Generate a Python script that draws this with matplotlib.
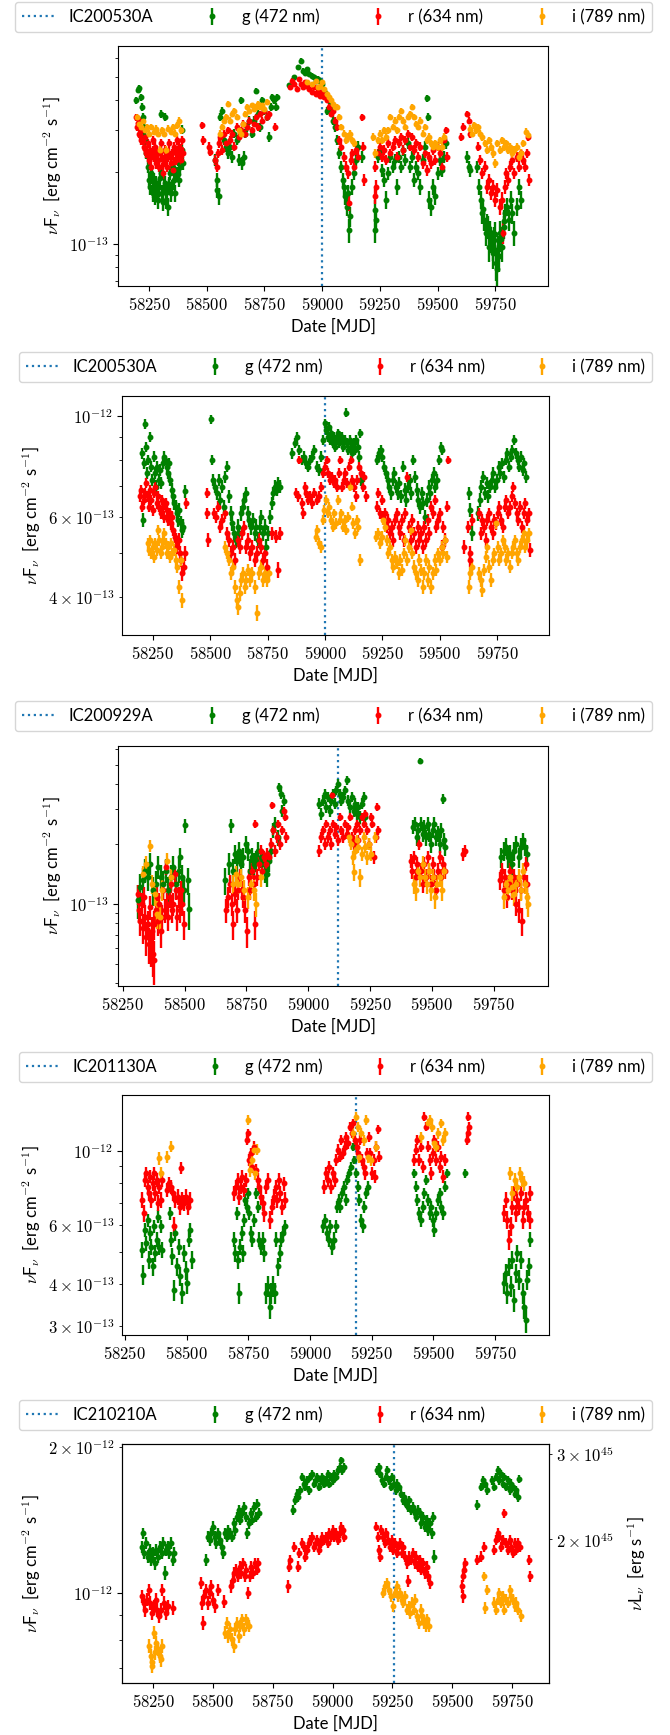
import matplotlib
matplotlib.use('Agg')
import matplotlib.pyplot as plt
from matplotlib.ticker import LogLocator, FuncFormatter, FixedLocator
import numpy as np

plt.rcParams['font.family'] = ['Lato', 'DejaVu Sans']
plt.rcParams['mathtext.fontset'] = 'cm'
plt.rcParams['font.size'] = 12

# ---------------- data (MJD, flux) ----------------
# Panel 1 : IC200530A, flux in 1e-13 erg cm^-2 s^-1
P1_EVENT = 59000
P1_G = [(58194,3.98),(58200,4.4),(58206,4.5),(58213,4.1),(58217,3.74),(58222,2.89),(58224,3.4),(58228,3.08),(58231,2.7),(58237,2.4),(58243,2.1),(58248,1.85),(58254,1.73),(58259,1.97),(58265,1.63),(58270,1.85),(58276,1.58),(58281,1.79),(58287,1.53),(58293,1.73),(58300,3.5),(58302,1.97),(58307,1.63),(58313,1.73),(58320,3.4),(58324,1.53),(58330,1.43),(58335,1.73),(58341,1.97),(58346,1.63),(58352,2.1),(58357,1.85),(58363,1.63),(58369,1.97),(58374,2.24),(58380,1.85),(58385,2.1),(58391,2.47),(58394,3.0),(58398,2.17),
        (58262,1.9),(58268,1.68),(58278,1.75),(58290,1.62),(58298,1.88),(58310,1.5),(58318,1.8),(58327,1.65),(58338,1.78),(58349,1.72),(58360,1.95),(58377,1.95),
        (58537,2.24),(58543,1.85),(58546,1.68),(58552,1.58),(58557,3.4),(58565,3.6),(58574,2.71),(58583,2.55),(58593,2.39),(58602,2.55),(58611,2.31),(58620,2.89),(58630,2.71),(58639,2.24),(58648,3.98),(58654,2.17),(58661,2.31),(58667,2.89),(58676,3.08),(58685,3.28),(58694,2.89),(58704,3.28),(58713,4.38),(58722,3.5),(58731,3.08),(58741,3.98),(58750,3.6),(58759,3.4),(58769,2.8),(58778,3.74),(58783,4.1),(58791,3.98),(58798,3.74),(58806,4.1),
        (58857,4.6),(58880,4.98),(58894,5.49),(58907,5.84),(58917,5.3),(58926,5.2),(58935,5.39),(58944,5.14),(58954,5.06),(58963,4.98),(58972,4.82),(58981,4.9),(58991,4.82),(59000,4.66),
        (59009,4.38),(59019,3.6),(59028,3.98),(59037,3.74),(59046,3.28),(59056,3.08),(59065,2.71),(59074,2.39),(59083,2.1),(59089,1.85),(59094,1.73),(59100,1.58),(59106,1.43),(59111,1.63),(59117,1.14),(59122,1.3),(59130,1.73),(59139,1.97),(59148,2.24),(59157,2.55),(59172,2.31),
        (59228,1.39),(59231,1.14),(59235,1.26),(59241,2.31),(59250,2.47),(59259,2.03),(59269,1.85),(59278,1.53),(59287,1.97),(59296,2.31),(59306,2.1),(59315,2.24),(59324,1.73),(59333,2.31),(59343,2.1),(59352,2.47),(59361,2.24),(59370,2.63),(59380,2.1),(59389,2.31),(59398,1.85),(59407,2.1),(59417,1.97),(59426,1.73),(59435,2.24),(59444,2.55),(59454,4.07),(59459,3.4),(59463,1.53),(59472,1.43),(59481,1.73),(59491,1.58),(59500,1.97),(59509,2.24),(59519,2.03),(59528,2.31),(59537,2.63),
        (59630,2.31),(59635,2.1),(59639,2.03),(59672,2.1),(59680,1.73),(59687,1.53),(59694,1.34),(59702,1.26),(59709,1.11),(59717,1.18),(59724,0.97),(59731,1.04),(59739,0.91),(59746,1.04),(59754,0.83),(59759,0.78),(59765,0.89),(59772,1.11),(59780,0.97),(59787,1.18),(59794,1.34),(59802,1.43),(59809,1.26),(59817,1.53),(59824,1.34),(59833,1.11),(59843,1.43),(59852,1.73),(59861,1.53),
        (59698,1.4),(59713,1.2),(59728,1.12),(59742,0.98),(59750,1.1),(59762,0.95),(59776,1.05),(59790,1.25)]
P1_R = [(58194,3.39),(58198,3.08),(58204,2.89),(58209,3.28),(58215,2.71),(58220,2.98),(58226,2.55),(58231,2.8),(58237,2.39),(58243,2.63),(58248,2.24),(58254,2.47),(58259,2.1),(58265,2.71),(58270,2.31),(58276,2.55),(58281,2.17),(58287,2.39),(58293,2.1),(58300,2.63),(58304,2.31),(58309,1.97),(58315,2.24),(58320,2.47),(58326,2.1),(58331,2.31),(58337,2.63),(58343,2.17),(58348,2.39),(58354,2.03),(58359,2.55),(58365,2.24),(58370,2.71),(58376,2.31),(58381,2.55),(58387,2.24),(58393,2.71),(58398,2.39),
        (58201,3.2),(58212,2.85),(58223,2.7),(58234,2.5),(58246,2.35),(58257,2.3),(58268,2.45),(58279,2.35),(58290,2.25),(58302,2.45),(58312,2.15),(58323,2.3),(58334,2.4),(58345,2.3),(58357,2.2),(58368,2.45),(58379,2.4),(58390,2.5),
        (58481,3.13),(58485,2.71),(58509,2.55),(58515,2.43),(58537,2.24),(58543,2.1),(58548,2.39),(58554,2.63),(58559,2.8),(58565,2.47),(58574,2.89),(58583,2.63),(58593,2.98),(58602,2.71),(58611,2.89),(58620,2.55),(58630,3.08),(58639,2.8),(58648,2.98),(58657,3.18),(58667,2.89),(58676,3.08),(58685,3.28),(58694,2.98),(58704,3.18),(58713,3.39),(58722,3.08),(58731,3.5),(58741,3.28),(58750,3.6),(58759,3.39),(58769,3.5),(58796,3.08),
        (58861,4.52),(58870,4.82),(58880,4.66),(58889,4.45),(58898,4.9),(58907,4.66),(58917,4.52),(58926,4.74),(58935,4.59),(58944,4.45),(58954,4.31),(58963,4.52),(58972,4.24),(58981,4.38),(58991,4.17),(59000,4.31),
        (59009,4.1),(59019,3.98),(59028,3.74),(59037,3.5),(59046,3.6),(59056,3.28),(59065,3.08),(59074,2.71),(59083,2.55),(59093,2.31),(59102,2.1),(59111,1.97),(59117,1.48),(59124,2.24),(59131,2.39),(59139,2.1),(59148,2.47),(59157,2.31),(59172,3.39),(59176,2.55),(59180,1.85),
        (59228,2.1),(59231,1.58),(59235,1.73),(59243,2.39),(59250,2.55),(59259,2.31),(59269,2.47),(59278,2.24),(59287,2.63),(59296,2.39),(59306,2.55),(59315,2.71),(59324,2.31),(59333,2.63),(59343,2.8),(59352,2.47),(59361,2.71),(59370,2.89),(59380,2.55),(59389,2.8),(59398,2.47),(59407,2.63),(59417,2.31),(59426,2.55),(59435,2.17),(59444,2.39),(59454,2.03),(59463,2.31),(59472,2.17),(59481,2.47),(59491,2.24),(59500,2.55),(59509,2.39),(59519,2.1),(59528,2.71),(59537,2.98),(59543,2.31),
        (59602,2.8),(59611,3.08),(59630,3.5),(59635,3.28),(59639,2.89),(59676,2.55),(59685,2.24),(59694,1.97),(59704,2.1),(59713,1.73),(59722,1.85),(59731,1.63),(59741,1.73),(59750,1.53),(59759,1.68),(59769,1.43),(59778,1.53),(59783,1.11),(59791,1.73),(59798,1.97),(59806,1.85),(59815,2.1),(59824,2.24),(59833,1.97),(59843,2.31),(59852,2.1),(59861,2.39),(59870,2.24),(59880,2.1),(59889,2.39),(59894,2.8),(59898,1.85)]
P1_I = [(58198,3.39),(58206,3.18),(58213,3.08),(58222,3.28),(58231,2.98),(58241,3.08),(58250,2.89),(58259,3.08),(58269,2.94),(58278,3.03),(58287,2.89),(58296,2.47),(58306,2.98),(58315,2.89),(58324,2.47),(58333,3.03),(58343,2.94),(58352,3.08),(58361,2.89),(58370,3.13),(58380,3.28),(58389,2.98),
        (58556,2.89),(58565,3.08),(58574,3.28),(58583,3.39),(58593,3.85),(58602,3.28),(58611,3.5),(58620,3.6),(58630,3.39),(58639,2.98),(58648,2.89),(58657,3.18),(58667,3.5),(58676,3.74),(58685,3.6),(58694,3.8),(58704,3.67),(58713,3.74),(58722,3.85),(58731,3.74),(58741,3.8),(58750,3.67),(58759,3.92),
        (58935,4.74),(58954,4.66),(58972,4.82),(58981,4.52),(58991,4.59),(59000,4.74),(59009,4.45),
        (59019,4.24),(59028,4.1),(59037,3.98),(59046,3.85),(59056,3.74),(59065,3.74),(59074,3.39),(59083,3.08),(59093,2.89),(59102,2.71),(59111,2.8),(59120,2.89),(59130,2.71),(59139,2.63),
        (59222,2.8),(59231,2.39),(59241,2.71),(59250,2.89),(59259,2.71),(59269,2.98),(59278,2.8),(59287,2.98),(59296,3.39),(59306,3.08),(59315,3.28),(59324,2.98),(59333,3.39),(59343,3.6),(59352,3.28),(59361,3.08),(59370,3.39),(59380,3.5),(59389,3.74),(59398,3.39),(59407,3.18),(59417,3.08),(59426,3.28),(59435,2.89),(59444,3.08),(59454,2.71),(59463,2.8),(59472,2.63),(59481,2.55),(59491,2.63),(59500,2.55),(59509,2.71),(59519,2.55),(59528,2.8),
        (59639,3.03),(59648,2.89),(59657,3.13),(59667,2.98),(59676,3.08),(59685,2.89),(59694,2.8),(59704,2.63),(59713,2.47),(59722,2.71),(59731,2.55),(59741,2.39),(59750,2.17),(59759,2.63),(59769,2.47),(59778,2.71),(59787,2.55),(59796,2.63),(59806,2.47),(59815,2.55),(59824,2.39),(59833,2.47),(59843,2.55),(59852,2.31),(59861,2.39),(59870,2.63),(59885,2.94),(59892,2.85)]
P1_ERR = (0.13, 0.11, 0.10)

# Panel 2 : IC200530A (second source), flux in 1e-13
P2_EVENT = 59000
P2_G = [(58205,8.27),(58209,5.9),(58211,7.86),(58215,9.6),(58220,8.56),(58226,7.48),(58231,8.0),(58237,9.0),(58243,7.73),(58248,7.23),(58254,8.13),(58259,7.48),(58265,6.99),(58270,7.73),(58276,7.23),(58282,7.6),(58287,7.11),(58293,7.86),(58298,8.13),(58304,8.0),(58310,7.73),(58315,7.48),(58321,7.86),(58326,7.23),(58332,6.88),(58337,6.65),(58343,6.42),(58349,6.31),(58354,6.1),(58360,5.9),(58365,6.2),(58371,5.8),(58377,5.61),(58382,5.7),(58390,6.82),
        (58503,9.83),(58507,8.0),(58512,7.23),(58522,6.99),(58529,6.76),(58537,7.23),(58544,6.53),(58552,6.99),(58559,6.31),(58566,7.35),(58574,7.73),(58581,6.65),(58589,6.1),(58596,5.8),(58604,5.51),(58611,5.33),(58619,5.7),(58626,5.51),(58633,6.1),(58641,6.31),(58648,6.53),(58656,6.76),(58663,6.1),(58671,5.9),(58678,5.7),(58686,5.9),(58693,5.51),(58700,5.7),(58708,5.33),(58715,5.7),(58723,6.0),(58730,5.51),(58738,5.7),(58745,5.15),(58753,5.51),(58760,6.0),(58767,6.42),(58775,6.76),(58782,6.99),(58790,6.88),(58797,7.11),(58805,6.99),
        (58857,8.27),(58870,8.71),(58879,9.0),(58888,8.41),(58898,8.0),(58907,8.13),(58916,7.86),(58926,7.73),(58935,8.0),(58944,8.13),(58954,8.41),(58963,7.73),(58972,7.6),(58981,8.13),(58991,8.85),(59000,9.63),(59006,9.31),(59011,9.0),(59017,9.47),(59022,8.85),(59028,9.16),(59034,8.71),(59039,9.0),(59045,8.56),(59050,8.85),(59056,9.16),(59061,8.71),(59067,8.85),(59073,9.0),(59078,8.56),(59086,8.85),(59091,10.17),(59097,8.71),(59102,8.41),(59108,8.85),(59114,8.56),(59119,8.27),(59125,8.71),(59130,8.41),(59136,8.85),(59142,8.56),(59147,8.13),(59153,9.16),(59158,7.23),
        (59227,8.0),(59235,8.27),(59242,8.41),(59249,8.13),(59257,7.73),(59264,7.48),(59272,7.23),(59279,6.99),(59287,6.76),(59294,7.23),(59302,7.48),(59309,6.99),(59317,6.76),(59324,7.11),(59331,6.65),(59339,7.73),(59346,6.88),(59354,6.53),(59361,6.99),(59369,7.23),(59376,6.76),(59384,8.0),(59391,7.35),(59399,6.88),(59406,6.53),(59413,6.31),(59421,6.76),(59428,6.42),(59436,6.0),(59443,6.53),(59451,6.99),(59458,6.76),(59465,7.23),(59473,7.48),(59480,6.99),(59488,7.23),(59495,8.0),(59503,8.56),(59510,8.41),
        (59627,6.76),(59633,6.2),(59638,5.51),(59666,6.1),(59674,6.53),(59681,6.99),(59689,7.35),(59696,6.76),(59704,7.11),(59711,6.65),(59718,6.99),(59726,7.23),(59733,7.48),(59741,6.99),(59748,7.23),(59756,7.73),(59763,7.48),(59771,7.86),(59778,7.35),(59786,8.0),(59793,8.27),(59800,7.73),(59808,8.13),(59815,8.41),(59823,8.85),(59830,8.27),(59838,8.0),(59845,7.73),(59853,8.13),(59860,7.6),(59867,7.86),(59875,7.35)]
P2_R = [(58194,6.65),(58200,6.88),(58205,6.31),(58211,6.53),(58216,6.76),(58222,7.11),(58228,6.65),(58233,6.31),(58239,6.88),(58244,6.53),(58250,6.2),(58256,6.76),(58261,6.99),(58267,6.42),(58272,6.65),(58278,6.31),(58284,6.1),(58289,6.53),(58295,6.31),(58300,6.0),(58306,6.42),(58311,6.2),(58317,5.9),(58323,6.1),(58328,5.8),(58334,6.0),(58339,5.61),(58345,5.42),(58351,5.33),(58356,5.15),(58362,5.33),(58367,4.98),(58373,4.82),(58378,4.5),(58384,4.66),(58390,4.98),(58393,6.42),
        (58484,6.76),(58486,6.1),(58490,5.33),(58516,6.1),(58525,6.0),(58535,6.31),(58544,5.7),(58553,5.9),(58563,6.1),(58572,5.51),(58581,5.33),(58591,4.98),(58600,5.15),(58609,4.82),(58619,5.33),(58628,5.15),(58637,5.51),(58646,5.7),(58656,5.15),(58665,5.33),(58674,4.98),(58684,5.15),(58693,4.82),(58702,4.98),(58712,5.33),(58721,5.15),(58730,4.82),(58739,4.98),(58749,4.66),(58767,5.51),(58786,5.42),(58795,4.58),(58805,5.51),
        (58874,6.76),(58883,6.65),(58888,8.0),(58898,6.42),(58903,6.1),(58911,6.99),(58918,6.76),(58926,6.53),(58935,6.65),(58944,6.42),(58954,6.76),(58963,6.53),(58972,6.65),(58981,6.99),(58991,7.48),(59000,7.73),(59007,8.0),(59015,7.48),(59022,7.23),(59030,7.35),(59037,7.11),(59045,7.23),(59052,6.99),(59060,7.48),(59067,8.0),(59074,6.99),(59082,7.23),(59089,7.48),(59097,7.11),(59104,7.73),(59112,8.0),(59119,7.23),(59127,6.99),(59134,6.65),(59141,7.23),(59149,7.73),(59156,7.48),(59164,6.99),(59171,7.35),(59177,6.65),
        (59227,6.31),(59232,6.76),(59238,6.1),(59246,6.53),(59253,6.0),(59261,6.1),(59268,5.7),(59276,5.9),(59283,5.51),(59291,5.7),(59298,5.33),(59306,5.9),(59313,6.1),(59320,5.7),(59328,5.51),(59335,5.9),(59343,5.33),(59350,6.1),(59358,7.35),(59365,5.7),(59373,5.33),(59380,5.9),(59388,5.51),(59395,5.15),(59403,5.7),(59410,5.33),(59418,5.51),(59425,5.15),(59432,5.7),(59440,5.33),(59447,5.9),(59454,5.51),(59462,6.31),(59469,6.1),(59477,6.53),(59484,5.7),(59492,5.9),(59499,6.1),(59507,5.15),(59514,5.7),(59522,5.33),(59529,6.31),(59535,8.0),
        (59605,5.15),(59624,5.7),(59629,4.98),(59633,4.82),(59640,5.9),(59670,6.1),(59677,5.51),(59685,5.9),(59692,5.7),(59700,5.33),(59707,5.9),(59715,6.1),(59722,5.7),(59730,5.51),(59737,5.9),(59745,5.8),(59752,6.1),(59759,6.31),(59767,5.9),(59774,5.7),(59782,6.31),(59789,6.53),(59797,6.1),(59804,6.31),(59812,6.65),(59819,6.99),(59827,6.42),(59834,6.1),(59841,5.9),(59849,6.31),(59856,5.7),(59864,6.1),(59871,6.42),(59879,5.9),(59886,6.1),(59892,5.06)]
P2_I = [(58228,5.24),(58233,5.06),(58239,5.33),(58244,4.98),(58250,5.15),(58256,4.9),(58261,5.24),(58267,5.06),(58272,5.61),(58278,5.33),(58284,4.98),(58289,5.15),(58295,5.33),(58300,5.51),(58306,5.24),(58311,4.98),(58317,5.15),(58323,4.9),(58328,5.24),(58334,4.98),(58341,5.06),(58349,4.82),(58356,4.66),(58364,4.21),(58371,4.82),(58378,3.93),
        (58563,5.15),(58572,4.98),(58581,4.82),(58591,4.5),(58600,4.66),(58609,4.21),(58615,3.93),(58620,3.8),(58628,4.07),(58635,4.35),(58643,4.5),(58650,4.21),(58658,4.35),(58665,4.58),(58674,4.35),(58684,4.5),(58693,4.21),(58702,3.68),(58712,4.5),(58721,4.66),(58730,4.35),(58739,4.5),(58749,4.35),(58758,4.5),
        (58959,5.42),(58967,5.61),(58974,5.24),(58981,5.15),(58989,5.9),(58996,6.2),(59004,6.53),(59011,6.1),(59019,6.31),(59026,5.9),(59034,5.7),(59041,6.1),(59048,5.8),(59056,6.53),(59063,5.9),(59071,6.1),(59078,5.7),(59086,5.9),(59093,5.61),(59101,6.0),(59108,6.99),(59117,6.31),(59123,5.8),(59130,5.51),(59138,5.9),(59145,5.7),(59154,4.82),
        (59223,5.42),(59230,5.51),(59238,5.24),(59246,5.42),(59253,5.9),(59261,5.7),(59268,5.33),(59276,4.98),(59283,5.15),(59291,4.82),(59298,4.66),(59306,4.9),(59313,4.74),(59320,4.5),(59328,4.82),(59335,4.58),(59343,4.98),(59350,5.33),(59358,4.82),(59365,5.15),(59373,5.61),(59380,4.98),(59388,4.66),(59395,4.5),(59403,4.35),(59410,4.82),(59418,4.58),(59425,4.21),(59432,4.5),(59440,4.82),(59447,4.35),(59454,4.66),(59462,4.21),(59469,4.5),(59477,4.82),(59484,4.58),(59492,4.98),(59499,4.82),(59507,5.15),(59514,4.98),(59522,5.33),(59529,4.9),
        (59627,4.21),(59633,4.5),(59640,4.66),(59670,4.5),(59677,4.35),(59685,4.14),(59692,4.58),(59700,4.9),(59707,5.15),(59715,4.66),(59722,4.35),(59730,4.82),(59737,4.98),(59745,5.8),(59752,5.15),(59759,4.82),(59767,4.98),(59774,5.33),(59782,5.15),(59789,4.82),(59797,4.98),(59804,4.66),(59812,4.98),(59819,5.15),(59827,5.33),(59834,4.98),(59841,4.82),(59849,5.15),(59856,5.33),(59864,5.51),(59871,5.15),(59879,5.33),(59886,5.51)]
P2_ERR = (0.22, 0.18, 0.15)

# Panel 3 : IC200929A, flux in 1e-13
P3_EVENT = 59122
P3_G = [(58310,1.04),(58321,1.21),(58331,1.31),(58341,1.47),(58352,1.36),(58362,1.59),(58372,1.17),(58383,1.26),(58393,1.53),(58403,1.36),(58414,1.26),(58424,1.47),(58434,1.17),(58445,1.36),(58455,1.53),(58465,1.26),(58476,1.47),(58483,1.71),(58490,1.36),(58497,1.17),(58502,2.48),(58514,1.31),(58517,0.94),
        (58665,1.31),(58678,1.59),(58686,2.48),(58695,1.47),(58703,1.78),(58712,1.65),(58721,1.85),(58729,1.59),(58738,1.71),(58747,2.0),(58755,1.85),(58764,1.47),(58772,1.71),(58781,1.59),(58790,1.65),(58798,1.85),(58807,1.71),(58815,1.59),(58824,1.47),(58833,1.42),(58841,1.65),(58850,1.85),(58859,2.34),(58867,2.52),(58876,2.16),(58881,3.85),(58888,3.57),(58895,2.94),(58902,3.3),
        (59045,3.18),(59052,2.84),(59059,3.3),(59066,3.57),(59072,3.06),(59079,3.44),(59086,2.94),(59093,3.3),(59100,3.57),(59107,3.18),(59114,3.71),(59121,4.01),(59128,3.57),(59134,3.3),(59141,3.44),(59148,3.71),(59155,4.17),(59162,3.3),(59169,3.06),(59176,3.44),(59183,2.94),(59190,3.18),(59197,2.84),(59203,3.06),(59210,2.73),(59217,3.18),(59224,3.44),(59231,2.73),
        (59424,2.43),(59431,2.52),(59438,2.16),(59445,2.34),(59452,5.21),(59455,2.52),(59462,2.25),(59469,2.43),(59476,2.16),(59483,2.52),(59490,2.25),(59497,2.0),(59503,2.34),(59510,2.52),(59517,2.16),(59524,2.25),(59531,2.0),(59538,2.34),(59543,3.37),(59548,2.08),(59553,1.93),
        (59781,1.71),(59790,1.85),(59798,1.93),(59807,1.71),(59815,1.78),(59824,1.59),(59833,1.85),(59841,2.0),(59850,1.71),(59859,1.93),(59867,2.08),(59876,1.93),(59884,1.78)]
P3_R = [(58310,1.12),(58315,0.93),(58321,0.82),(58326,1.0),(58331,0.76),(58336,1.08),(58341,0.86),(58346,0.68),(58352,0.79),(58357,0.63),(58362,0.96),(58364,0.61),(58367,0.73),(58372,0.56),(58376,0.52),(58378,0.79),(58383,0.93),(58388,1.08),(58393,0.82),(58398,1.0),(58403,0.73),(58409,0.86),(58414,1.17),(58419,0.93),(58424,1.53),(58429,1.0),(58434,0.86),(58440,1.08),(58445,1.26),(58450,0.93),(58455,1.0),(58460,1.41),(58465,1.17),(58471,0.86),(58476,1.08),(58481,0.93),(58486,1.17),(58491,1.0),(58497,0.79),
        (58669,0.93),(58676,1.08),(58683,1.26),(58690,1.0),(58697,0.79),(58703,1.12),(58710,0.93),(58717,1.17),(58724,1.36),(58731,1.17),(58738,1.08),(58745,0.93),(58752,0.73),(58759,1.36),(58766,1.17),(58772,1.47),(58779,1.26),(58783,2.52),(58786,0.79),(58793,1.36),(58800,1.59),(58807,1.85),(58814,1.47),(58821,1.71),(58828,1.59),(58834,1.78),(58841,1.71),(58848,2.0),(58853,3.12),(58859,2.34),(58866,1.85),(58872,2.16),(58879,2.52),(58886,2.0),(58893,2.34),(58900,2.94),(58907,2.73),(58910,2.16),
        (59045,1.85),(59052,2.16),(59059,2.34),(59066,2.0),(59072,2.52),(59079,2.16),(59086,2.34),(59093,2.0),(59097,3.5),(59100,2.52),(59107,2.25),(59114,2.43),(59121,2.08),(59128,2.73),(59134,2.34),(59141,2.16),(59148,2.52),(59155,2.25),(59162,2.43),(59169,2.73),(59176,2.16),(59183,2.0),(59190,2.34),(59197,2.52),(59203,2.08),(59210,2.34),(59217,2.73),(59224,2.52),(59231,2.84),(59238,2.34),(59245,2.0),(59252,2.73),(59259,2.52),(59266,1.71),(59272,2.16),(59277,3.06),(59282,2.34),
        (59414,1.65),(59421,1.47),(59428,1.71),(59434,1.36),(59441,1.59),(59448,2.0),(59455,1.47),(59462,1.26),(59469,1.59),(59476,1.36),(59483,1.71),(59490,1.47),(59497,1.26),(59503,1.59),(59510,1.36),(59517,1.17),(59524,1.47),(59531,1.71),(59538,1.36),(59545,1.59),(59552,1.47),(59626,1.78),(59634,1.85),
        (59776,1.31),(59783,1.47),(59790,1.17),(59797,1.36),(59803,1.08),(59810,1.26),(59817,1.47),(59824,1.17),(59831,1.36),(59838,1.0),(59845,1.26),(59852,0.93),(59859,1.17),(59865,0.82),(59872,1.36),(59879,1.59),(59886,1.26)]
P3_I = [(58334,1.41),(58346,1.59),(58359,1.96),(58369,1.26),(58379,1.12),(58390,0.89),(58400,0.86),(58410,1.17),(58431,1.65),(58445,1.36),
        (58695,1.26),(58707,1.41),(58717,1.26),(58729,1.36),(58741,1.17),(58755,1.08),(58769,1.26),(58781,1.17),(58790,1.0),(58807,1.36),
        (59165,2.16),(59172,2.0),(59179,1.71),(59183,1.44),(59190,1.85),(59197,2.08),(59203,1.93),(59210,1.36),(59217,1.78),(59224,2.16),(59231,1.93),(59238,1.71),(59245,2.0),(59255,1.78),(59269,2.16),
        (59428,1.26),(59436,1.17),(59445,1.47),(59453,1.36),(59462,1.59),(59471,1.36),(59479,1.26),(59488,1.47),(59497,1.17),(59505,1.36),(59514,1.08),(59522,1.26),(59531,1.36),(59540,1.17),(59548,1.47),
        (59790,1.08),(59798,1.26),(59807,1.17),(59815,1.36),(59824,1.21),(59833,1.12),(59841,1.26),(59850,1.36),(59859,1.17),(59867,1.47),(59876,1.26),(59884,1.08),(59890,1.0)]
P3_ERR = (0.2, 0.13, 0.14)

# Panel 4 : IC201130A, flux in 1e-13
P4_EVENT = 59185
P4_G = [(58318,5.06),(58324,4.27),(58330,5.81),(58337,5.3),(58342,6.22),(58347,4.73),(58352,5.68),(58357,5.18),(58363,4.52),(58368,5.95),(58373,4.95),(58378,5.43),(58383,6.37),(58389,5.18),(58394,5.95),(58399,5.06),(58434,6.52),(58437,5.43),(58442,4.84),(58447,3.85),(58454,5.68),(58461,4.52),(58468,5.18),(58475,4.22),(58482,3.76),(58489,4.95),(58496,4.41),(58503,4.03),(58510,5.43),(58515,5.81),(58520,4.73),
        (58692,5.43),(58697,4.95),(58702,6.52),(58707,4.73),(58713,3.76),(58718,5.18),(58723,5.68),(58728,4.95),(58733,6.22),(58738,7.14),(58744,6.82),(58749,7.47),(58754,6.52),(58759,5.68),(58766,5.43),(58773,6.22),(58780,7.47),(58787,6.82),(58794,5.43),(58801,5.18),(58808,5.43),(58815,4.95),(58822,3.76),(58829,3.94),(58836,3.43),(58843,3.76),(58850,3.94),(58856,3.76),(58863,5.43),(58870,4.52),(58877,4.95),(58884,5.43),(58891,5.68),(58898,5.95),
        (59054,5.95),(59061,6.22),(59068,5.68),(59075,5.43),(59082,5.95),(59089,5.18),(59096,5.43),(59103,5.95),(59109,6.82),(59116,7.14),(59123,6.82),(59130,7.47),(59137,7.83),(59144,7.14),(59151,8.19),(59158,8.58),(59165,8.98),(59172,10.3),(59179,9.4),(59186,8.58),(59193,7.83),(59199,7.14),(59206,6.22),(59213,5.95),(59220,6.82),(59227,7.47),(59234,7.83),
        (59421,8.58),(59428,7.83),(59435,7.14),(59442,6.52),(59449,6.22),(59456,6.82),(59463,7.47),(59470,8.19),(59477,7.14),(59484,6.52),(59490,6.82),(59497,6.22),(59504,5.81),(59511,6.52),(59518,7.14),(59525,7.47),(59532,6.82),(59539,6.52),(59546,7.83),(59553,8.58),(59627,8.58),
        (59785,4.03),(59792,4.31),(59799,3.76),(59806,4.52),(59813,3.94),(59820,4.73),(59827,3.59),(59833,4.31),(59840,4.95),(59847,4.12),(59854,4.73),(59861,3.76),(59868,3.43),(59873,3.13),(59878,4.12),(59885,4.52),(59890,5.43)]
P4_R = [(58321,7.14),(58326,6.52),(58331,8.19),(58337,8.58),(58342,7.83),(58347,7.47),(58352,8.39),(58357,7.14),(58363,8.0),(58368,8.58),(58373,7.47),(58378,8.19),(58383,6.99),(58389,7.83),(58394,7.14),(58399,8.19),(58420,7.65),(58428,8.0),(58437,7.83),(58446,7.47),(58449,5.95),(58454,7.14),(58463,7.3),(58472,6.82),(58477,8.89),(58480,7.14),(58489,6.99),(58498,7.3),(58506,6.82),(58515,7.14),
        (58692,7.47),(58699,7.83),(58706,8.19),(58713,7.3),(58720,7.83),(58726,8.39),(58733,7.65),(58740,8.19),(58745,10.78),(58749,11.29),(58754,9.4),(58759,9.84),(58766,8.98),(58773,10.3),(58780,8.78),(58787,8.19),(58794,7.83),(58801,7.3),(58808,6.99),(58815,6.52),(58822,7.83),(58829,8.19),(58836,6.22),(58846,6.82),(58853,7.3),(58860,7.83),(58867,7.14),(58874,8.19),(58880,7.47),(58887,6.82),(58894,8.0),(58900,7.14),
        (59057,7.83),(59064,8.58),(59071,8.19),(59078,8.98),(59085,7.83),(59092,8.58),(59099,8.19),(59106,9.4),(59113,10.1),(59120,9.62),(59127,10.78),(59134,9.84),(59141,10.3),(59147,11.04),(59154,10.54),(59161,11.82),(59168,11.29),(59175,12.1),(59182,10.78),(59189,10.3),(59196,9.84),(59203,10.78),(59210,9.4),(59217,8.98),(59224,8.58),(59231,9.84),(59237,11.04),(59244,9.84),(59251,8.58),(59258,9.4),(59265,8.39),(59268,10.3),(59274,11.6),(59279,9.62),
        (59421,9.4),(59428,10.1),(59435,10.78),(59442,9.4),(59449,10.3),(59456,8.98),(59463,12.66),(59470,11.82),(59477,10.3),(59484,9.4),(59490,8.58),(59497,9.84),(59504,10.78),(59511,9.4),(59518,10.3),(59525,8.98),(59532,9.62),(59539,8.39),(59546,9.4),(59637,10.78),(59639,11.29),(59641,12.66),(59644,11.82),
        (59785,6.52),(59792,7.14),(59799,6.22),(59806,5.43),(59813,5.95),(59820,6.82),(59827,7.47),(59833,6.52),(59840,7.14),(59847,6.82),(59854,7.47),(59861,6.22),(59868,6.82),(59875,7.14),(59882,6.52),(59889,7.47),(59892,6.22)]
P4_I = [(58389,9.51),(58397,8.58),(58420,9.62),(58437,10.3),
        (58749,12.37),(58758,8.78),(58766,9.4),(58771,10.1),(58776,8.58),(58784,10.1),
        (59175,11.29),(59186,12.66),(59193,11.82),(59199,9.62),(59208,11.29),(59217,10.78),(59225,12.37),(59234,9.62),(59248,9.4),(59268,10.3),
        (59450,11.0),(59477,12.1),(59486,12.37),(59494,11.82),(59503,10.54),(59511,10.3),(59520,11.29),(59529,12.1),(59537,10.78),(59546,11.29),
        (59809,8.58),(59820,7.47),(59832,8.19),(59840,7.83),(59849,8.58),(59858,8.19),(59866,8.0)]
P4_ERR = (0.28, 0.38, 0.4)

# Panel 5 : IC210210A, flux in 1e-12
P5_EVENT = 59258
P5_LUM_PER_FLUX = 1.55e57   # erg s^-1 per erg cm^-2 s^-1
P5_G = [(58205,1.246),(58209,1.33),(58214,1.21),(58221,1.267),(58229,1.189),(58236,1.227),(58243,1.17),(58250,1.21),(58257,1.152),(58264,1.227),(58271,1.189),(58279,1.246),(58286,1.21),(58293,1.267),(58298,1.1),(58304,1.227),(58311,1.246),(58318,1.21),(58325,1.267),(58332,1.17),(58339,1.21),
        (58473,1.17),(58479,1.307),(58486,1.287),(58493,1.33),(58500,1.37),(58507,1.307),(58514,1.267),(58521,1.33),(58529,1.287),(58536,1.246),(58543,1.21),(58550,1.33),(58557,1.307),(58564,1.349),(58571,1.33),(58579,1.307),(58586,1.392),(58593,1.349),(58600,1.437),(58607,1.483),(58614,1.415),(58621,1.46),(58629,1.506),(58636,1.437),(58643,1.33),(58650,1.392),(58657,1.46),(58664,1.415),(58671,1.506),(58679,1.437),(58686,1.53),(58691,1.46),
        (58836,1.483),(58843,1.554),(58850,1.604),(58857,1.579),(58864,1.629),(58871,1.736),(58879,1.681),(58886,1.655),(58893,1.708),(58900,1.629),(58907,1.736),(58914,1.763),(58921,1.681),(58929,1.708),(58936,1.736),(58943,1.655),(58950,1.708),(58957,1.736),(58964,1.681),(58971,1.708),(58979,1.763),(58986,1.681),(58993,1.736),(59000,1.708),(59007,1.763),(59014,1.736),(59021,1.791),(59029,1.82),(59036,1.877),(59041,1.791),(59046,1.82),
        (59186,1.791),(59193,1.82),(59200,1.763),(59207,1.708),(59214,1.681),(59221,1.736),(59229,1.791),(59236,1.708),(59243,1.655),(59250,1.736),(59257,1.681),(59264,1.629),(59271,1.681),(59279,1.655),(59286,1.604),(59293,1.554),(59300,1.579),(59307,1.53),(59314,1.506),(59321,1.554),(59329,1.483),(59336,1.506),(59343,1.46),(59350,1.437),(59357,1.483),(59364,1.46),(59371,1.392),(59379,1.437),(59386,1.37),(59393,1.415),(59400,1.349),(59407,1.392),(59414,1.33),(59421,1.437),(59425,1.189),
        (59605,1.518),(59621,1.655),(59629,1.708),(59636,1.681),(59643,1.629),(59664,1.708),(59673,1.655),(59682,1.736),(59689,1.791),(59696,1.708),(59704,1.763),(59711,1.681),(59718,1.736),(59725,1.655),(59732,1.708),(59739,1.629),(59746,1.681),(59754,1.655),(59761,1.604),(59768,1.629),(59775,1.579),(59779,1.72)]
P5_R = [(58204,0.984),(58211,0.954),(58218,0.924),(58225,0.969),(58232,1.016),(58239,0.954),(58246,0.91),(58254,0.939),(58261,0.969),(58268,0.924),(58275,0.896),(58282,0.924),(58289,1.016),(58296,0.954),(58304,0.91),(58311,0.939),(58334,0.931),
        (58450,1.048),(58454,0.954),(58457,0.868),(58464,0.984),(58471,1.016),(58479,0.954),(58486,1.0),(58493,1.032),(58500,0.969),(58507,0.939),(58521,1.016),(58546,0.96),(58575,1.032),(58582,1.065),(58589,1.1),(58596,1.117),(58604,1.082),(58611,1.134),(58618,1.1),(58625,1.152),(58632,1.082),(58639,1.117),(58646,1.0),(58654,1.082),(58661,1.134),(58668,1.1),(58675,1.152),(58682,1.117),(58689,1.152),
        (58814,1.032),(58818,1.134),(58821,1.17),(58839,1.246),(58854,1.134),(58861,1.21),(58871,1.267),(58879,1.246),(58886,1.189),(58893,1.227),(58900,1.267),(58907,1.287),(58914,1.307),(58921,1.246),(58929,1.267),(58936,1.287),(58943,1.227),(58950,1.267),(58957,1.307),(58964,1.287),(58971,1.307),(58979,1.267),(58986,1.33),(58993,1.307),(59000,1.349),(59007,1.307),(59014,1.33),(59021,1.287),(59029,1.33),(59036,1.37),(59043,1.349),(59048,1.307),
        (59182,1.37),(59188,1.307),(59193,1.227),(59197,1.189),(59204,1.349),(59211,1.307),(59218,1.267),(59225,1.33),(59232,1.287),(59239,1.246),(59246,1.287),(59254,1.227),(59261,1.267),(59268,1.21),(59275,1.246),(59282,1.267),(59289,1.21),(59296,1.246),(59304,1.189),(59311,1.152),(59314,1.057),(59321,1.189),(59329,1.17),(59336,1.21),(59343,1.152),(59350,1.189),(59357,1.134),(59364,1.17),(59371,1.117),(59379,1.152),(59386,1.1),(59393,1.134),(59400,1.082),(59407,1.048),
        (59539,1.032),(59543,0.984),(59545,1.082),(59550,1.117),(59555,1.152),(59605,1.17),(59621,1.189),(59632,1.246),(59675,1.227),(59682,1.287),(59689,1.33),(59696,1.307),(59704,1.246),(59711,1.287),(59718,1.46),(59725,1.267),(59732,1.227),(59739,1.287),(59746,1.246),(59754,1.21),(59761,1.267),(59768,1.227),(59775,1.267),(59782,1.246),(59821,1.17),(59825,1.082)]
P5_I = [(58232,0.777),(58241,0.742),(58246,0.719),(58246,0.708),(58252,0.828),(58257,0.754),(58264,0.79),(58271,0.765),(58279,0.742),(58284,0.73),(58289,0.777),
        (58550,0.828),(58557,0.868),(58564,0.815),(58571,0.841),(58579,0.802),(58586,0.777),(58593,0.841),(58600,0.868),(58607,0.815),(58614,0.855),(58621,0.882),(58629,0.841),(58636,0.882),(58643,0.868),(58650,0.855),
        (59209,1.0),(59218,1.032),(59227,1.048),(59236,1.016),(59245,0.984),(59254,0.939),(59261,1.0),(59268,1.032),(59275,0.984),(59282,1.0),(59289,0.969),(59296,0.954),(59304,0.984),(59311,0.924),(59318,0.939),(59325,0.91),(59332,0.954),(59339,0.924),(59346,0.969),(59354,0.896),(59361,0.868),(59368,0.924),(59375,0.896),(59382,0.868),(59389,0.855),(59396,0.882),(59404,0.855),
        (59632,1.082),(59636,0.931),(59646,1.016),(59675,0.954),(59682,0.924),(59689,0.969),(59696,1.0),(59704,0.954),(59711,0.984),(59718,0.924),(59725,0.969),(59732,0.954),(59739,1.016),(59746,0.984),(59754,0.969),(59761,0.939),(59768,0.954),(59775,0.924),(59786,0.896)]
P5_ERR = (0.035, 0.03, 0.025)

EVENT_NAMES = ['IC200530A', 'IC200530A', 'IC200929A', 'IC201130A', 'IC210210A']
BAND_LABELS = ['g (472 nm)', 'r (634 nm)', 'i (789 nm)']
X_TICKS = [58250, 58500, 58750, 59000, 59250, 59500, 59750]
Y_TICK_LABELS = [[1e-13], [1e-12, 6e-13, 4e-13], [1e-13], [1e-12, 6e-13, 4e-13, 3e-13], [2e-12, 1e-12]]
Y2_TICK_LABELS = [3e45, 2e45]

# ---------------- layout (pixels in the 670x1735 figure) ----------------
W, H = 670, 1735
COLORS = ['green', 'red', 'orange']
panels = [
    dict(data=(P1_G, P1_R, P1_I), err=P1_ERR, unit=1e-13, ev=P1_EVENT, ax=(118, 46, 548, 286), leg=(15, 2, 652),
         xlim=(58115, 59979), ylim=(6.65e-14, 6.73e-13)),
    dict(data=(P2_G, P2_R, P2_I), err=P2_ERR, unit=1e-13, ev=P2_EVENT, ax=(122, 396, 549, 635), leg=(19, 352, 652),
         xlim=(58116, 59975), ylim=(3.293e-13, 1.106e-12)),
    dict(data=(P3_G, P3_R, P3_I), err=P3_ERR, unit=1e-13, ev=P3_EVENT, ax=(118, 746, 548, 986), leg=(15, 701, 652),
         xlim=(58231, 59969), ylim=(3.87e-14, 6.2e-13)),
    dict(data=(P4_G, P4_R, P4_I), err=P4_ERR, unit=1e-13, ev=P4_EVENT, ax=(122, 1095, 549, 1335), leg=(19, 1052, 652),
         xlim=(58238, 59968), ylim=(2.82e-13, 1.47e-12)),
    dict(data=(P5_G, P5_R, P5_I), err=P5_ERR, unit=1e-12, ev=P5_EVENT, ax=(122, 1444, 549, 1683), leg=(19, 1400, 652),
         xlim=(58120, 59904), ylim=(6.52e-13, 2.03e-12)),
]


def fmt_val(v):
    e = int(np.floor(np.log10(v) + 1e-9))
    c = int(round(v / 10 ** e))
    if c == 1:
        return r'$10^{%d}$' % e
    return r'$%d\times10^{%d}$' % (c, e)


def make_fmt(labeled):
    def f(v, pos):
        for L in labeled:
            if abs(v - L) / L < 1e-6:
                return fmt_val(L)
        return ''
    return FuncFormatter(f)


def setup_log(axis, labeled):
    axis.set_major_locator(LogLocator(base=10))
    axis.set_minor_locator(LogLocator(base=10, subs=np.arange(2, 10)))
    fm = make_fmt(labeled)
    axis.set_major_formatter(fm)
    axis.set_minor_formatter(fm)


fig = plt.figure(figsize=(W / 100, H / 100), dpi=100)

for k, P in enumerate(panels):
    l, t, r, b = P['ax']
    ax = fig.add_axes([l / W, 1 - b / H, (r - l) / W, (b - t) / H])
    hv = ax.axvline(P['ev'], ls=':', color='C0', lw=1.6)
    handles = [hv]
    for series, col, err in zip(P['data'], COLORS, P['err']):
        tt = np.array([p[0] for p in series], dtype=float)
        ff = np.array([p[1] for p in series], dtype=float) * P['unit']
        h = ax.errorbar(tt, ff, yerr=err * P['unit'], fmt='.', color=col, ms=6.5, elinewidth=1.7)
        handles.append(h)
    ax.set_yscale('log')
    ax.set_xlim(*P['xlim'])
    ax.set_ylim(*P['ylim'])
    setup_log(ax.yaxis, Y_TICK_LABELS[k])
    ax.xaxis.set_major_locator(FixedLocator(X_TICKS))
    ax.xaxis.set_major_formatter(FuncFormatter(lambda v, p: r'$%d$' % int(round(v))))
    ax.tick_params(labelsize=12)
    ax.set_xlabel('Date [MJD]')
    ax.set_ylabel(r'$\nu$F$_\nu$  [erg cm$^{-2}$ s$^{-1}$]')
    if k == 4:
        ax2 = ax.twinx()
        ax2.set_yscale('log')
        ax2.set_ylim(P['ylim'][0] * P5_LUM_PER_FLUX, P['ylim'][1] * P5_LUM_PER_FLUX)
        setup_log(ax2.yaxis, Y2_TICK_LABELS)
        ax2.tick_params(labelsize=12)
        ax2.set_ylabel(r'$\nu$L$_\nu$  [erg s$^{-1}$]', labelpad=8)
    lx0, ly, lx1 = P['leg']
    fig.legend(handles, [EVENT_NAMES[k]] + BAND_LABELS, loc='upper left',
               bbox_to_anchor=(lx0 / W, 1 - ly / H, (lx1 - lx0) / W, 0), bbox_transform=fig.transFigure,
               mode='expand', ncol=4, borderaxespad=0, fontsize=12)

fig.savefig('out.png', dpi=100)
